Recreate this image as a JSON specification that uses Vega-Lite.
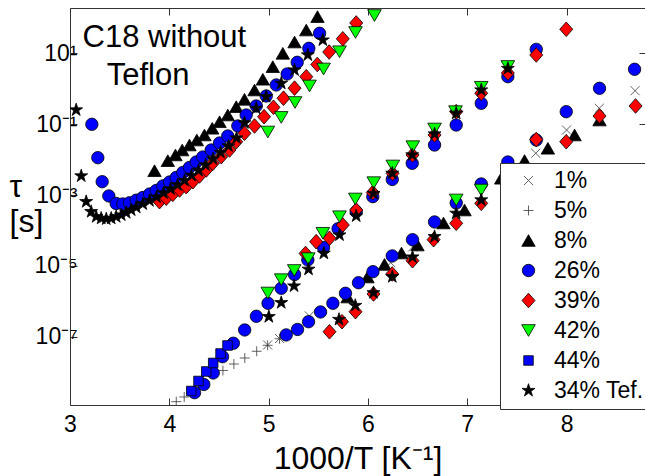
{
  "$schema": "https://vega.github.io/schema/vega-lite/v6.json",
  "autosize": {"type": "none"},
  "padding": {"left": 70, "top": 8, "right": 0, "bottom": 71},
  "width": 575,
  "height": 397,
  "config": {
    "view": {"stroke": null},
    "font": "Liberation Sans",
    "axis": {"grid": false, "labelFont": "Liberation Sans", "titleFont": "Liberation Sans", "labelColor": "#000", "titleColor": "#000", "domainColor": "#333", "tickColor": "#333", "titleFontWeight": "normal", "labelFlush": false, "labelOverlap": false}
  },
  "layer": [
    {
      "data": {"values": [
        {"s":"1%","x":4.99,"t":5.83e-8},{"s":"1%","x":5.11,"t":8.89e-8},{"s":"1%","x":5.41,"t":3.85e-7},{"s":"1%","x":6.23,"t":1.23e-5},{"s":"1%","x":6.45,"t":3.42e-5},{"s":"1%","x":7.69,"t":1.52e-2},{"s":"1%","x":8.00,"t":6.90e-2},{"s":"1%","x":8.33,"t":0.283},{"s":"1%","x":8.69,"t":0.889},
        {"s":"5%","x":4.07,"t":1.46e-9},{"s":"5%","x":4.15,"t":1.98e-9},{"s":"5%","x":4.54,"t":1.11e-8},{"s":"5%","x":4.65,"t":1.69e-8},{"s":"5%","x":4.76,"t":2.50e-8},{"s":"5%","x":4.88,"t":3.87e-8},{"s":"5%","x":4.99,"t":5.71e-8},{"s":"5%","x":5.11,"t":8.73e-8},
        {"s":"8%","x":3.851,"t":4.89e-3},{"s":"8%","x":3.985,"t":9.38e-3},{"s":"8%","x":4.062,"t":1.36e-2},{"s":"8%","x":4.130,"t":1.88e-2},{"s":"8%","x":4.203,"t":2.60e-2},{"s":"8%","x":4.277,"t":3.60e-2},{"s":"8%","x":4.354,"t":4.99e-2},{"s":"8%","x":4.432,"t":7.71e-2},{"s":"8%","x":4.506,"t":0.118},{"s":"8%","x":4.589,"t":0.183},{"s":"8%","x":4.674,"t":0.314},{"s":"8%","x":4.757,"t":0.508},{"s":"8%","x":4.858,"t":0.931},{"s":"8%","x":4.942,"t":1.87},{"s":"8%","x":5.042,"t":4.24},{"s":"8%","x":5.143,"t":10.1},{"s":"8%","x":5.261,"t":21.1},{"s":"8%","x":5.379,"t":46.1},{"s":"8%","x":5.492,"t":110},
        {"s":"8%","x":5.795,"t":1.32e-6},{"s":"8%","x":5.996,"t":4.85e-6},{"s":"8%","x":6.167,"t":1.10e-5},{"s":"8%","x":6.338,"t":2.31e-5},{"s":"8%","x":6.499,"t":3.89e-5},{"s":"8%","x":6.761,"t":1.63e-4},{"s":"8%","x":6.973,"t":3.79e-4},{"s":"8%","x":7.342,"t":2.99e-3},{"s":"8%","x":7.577,"t":9.48e-3},{"s":"8%","x":7.812,"t":2.10e-2},{"s":"8%","x":8.081,"t":4.99e-2},{"s":"8%","x":8.332,"t":0.132},
        {"s":"26%","x":3.220,"t":0.100},{"s":"26%","x":3.280,"t":1.14e-2},{"s":"26%","x":3.324,"t":2.39e-3},{"s":"26%","x":3.391,"t":9.44e-4},{"s":"26%","x":3.465,"t":5.79e-4},{"s":"26%","x":3.532,"t":5.61e-4},{"s":"26%","x":3.599,"t":6.05e-4},{"s":"26%","x":3.667,"t":7.18e-4},{"s":"26%","x":3.733,"t":8.55e-4},{"s":"26%","x":3.801,"t":1.07e-3},{"s":"26%","x":3.868,"t":1.35e-3},{"s":"26%","x":3.935,"t":1.81e-3},{"s":"26%","x":4.002,"t":2.34e-3},{"s":"26%","x":4.069,"t":3.14e-3},{"s":"26%","x":4.136,"t":4.35e-3},{"s":"26%","x":4.203,"t":6.03e-3},{"s":"26%","x":4.271,"t":8.61e-3},{"s":"26%","x":4.337,"t":1.19e-2},{"s":"26%","x":4.422,"t":1.88e-2},{"s":"26%","x":4.506,"t":2.96e-2},{"s":"26%","x":4.589,"t":4.67e-2},{"s":"26%","x":4.690,"t":8.95e-2},{"s":"26%","x":4.774,"t":0.183},{"s":"26%","x":4.875,"t":0.329},{"s":"26%","x":4.976,"t":0.630},{"s":"26%","x":5.077,"t":1.29},{"s":"26%","x":5.187,"t":2.64},{"s":"26%","x":5.288,"t":5.64},{"s":"26%","x":5.405,"t":14.0},{"s":"26%","x":5.513,"t":37.2},
        {"s":"26%","x":4.254,"t":2.62e-9},{"s":"26%","x":4.347,"t":4.47e-9},{"s":"26%","x":4.442,"t":9.44e-9},{"s":"26%","x":4.536,"t":2.72e-8},{"s":"26%","x":4.645,"t":6.52e-8},{"s":"26%","x":4.759,"t":1.55e-7},{"s":"26%","x":4.877,"t":3.77e-7},{"s":"26%","x":4.994,"t":8.79e-7},{"s":"26%","x":5.127,"t":2.33e-6},{"s":"26%","x":5.261,"t":5.71e-6},{"s":"26%","x":5.395,"t":1.47e-5},{"s":"26%","x":5.553,"t":3.31e-5},{"s":"26%","x":5.699,"t":1.12e-4},{"s":"26%","x":5.882,"t":3.40e-4},{"s":"26%","x":6.049,"t":9.02e-4},{"s":"26%","x":6.245,"t":2.76e-3},{"s":"26%","x":6.446,"t":7.91e-3},{"s":"26%","x":6.671,"t":2.60e-2},{"s":"26%","x":6.889,"t":9.55e-2},{"s":"26%","x":7.141,"t":0.392},{"s":"26%","x":7.409,"t":2.21},{"s":"26%","x":7.695,"t":13.1},
        {"s":"26%","x":5.177,"t":1.12e-7},{"s":"26%","x":5.291,"t":1.60e-7},{"s":"26%","x":5.402,"t":2.65e-7},{"s":"26%","x":5.523,"t":4.99e-7},{"s":"26%","x":5.647,"t":8.79e-7},{"s":"26%","x":5.774,"t":1.68e-6},{"s":"26%","x":5.905,"t":3.35e-6},{"s":"26%","x":6.051,"t":6.86e-6},{"s":"26%","x":6.245,"t":1.91e-5},{"s":"26%","x":6.449,"t":5.50e-5},{"s":"26%","x":6.671,"t":1.74e-4},{"s":"26%","x":6.889,"t":5.98e-4},{"s":"26%","x":7.141,"t":2.06e-3},{"s":"26%","x":7.409,"t":8.61e-3},{"s":"26%","x":7.695,"t":3.60e-2},{"s":"26%","x":7.997,"t":0.227},{"s":"26%","x":8.332,"t":1.04},{"s":"26%","x":8.685,"t":3.58},
        {"s":"39%","x":3.901,"t":6.52e-4},{"s":"39%","x":3.969,"t":8.13e-4},{"s":"39%","x":4.035,"t":1.05e-3},{"s":"39%","x":4.103,"t":1.39e-3},{"s":"39%","x":4.170,"t":1.73e-3},{"s":"39%","x":4.237,"t":2.39e-3},{"s":"39%","x":4.304,"t":3.47e-3},{"s":"39%","x":4.372,"t":5.12e-3},{"s":"39%","x":4.438,"t":7.91e-3},{"s":"39%","x":4.523,"t":1.22e-2},{"s":"39%","x":4.606,"t":1.88e-2},{"s":"39%","x":4.674,"t":3.22e-2},{"s":"39%","x":4.757,"t":5.57e-2},{"s":"39%","x":4.858,"t":8.95e-2},{"s":"39%","x":4.954,"t":0.164},{"s":"39%","x":5.049,"t":0.302},{"s":"39%","x":5.150,"t":0.546},{"s":"39%","x":5.261,"t":1.05},{"s":"39%","x":5.379,"t":2.21},{"s":"39%","x":5.490,"t":4.89},{"s":"39%","x":5.610,"t":11.0},{"s":"39%","x":5.747,"t":26.0},{"s":"39%","x":5.882,"t":72.8},
        {"s":"39%","x":5.372,"t":2.24e-5},{"s":"39%","x":5.479,"t":4.83e-5},{"s":"39%","x":5.613,"t":6.03e-5},{"s":"39%","x":5.747,"t":1.43e-4},{"s":"39%","x":5.882,"t":3.79e-4},{"s":"39%","x":6.049,"t":1.18e-3},{"s":"39%","x":6.248,"t":4.13e-3},{"s":"39%","x":6.449,"t":1.36e-2},{"s":"39%","x":6.671,"t":4.99e-2},{"s":"39%","x":6.889,"t":0.227},{"s":"39%","x":7.141,"t":0.752},{"s":"39%","x":7.409,"t":2.81},{"s":"39%","x":7.695,"t":9.08},{"s":"39%","x":7.997,"t":48.3},
        {"s":"39%","x":5.613,"t":1.38e-7},{"s":"39%","x":5.739,"t":2.65e-7},{"s":"39%","x":5.875,"t":5.08e-7},{"s":"39%","x":6.056,"t":1.61e-6},{"s":"39%","x":6.245,"t":5.90e-6},{"s":"39%","x":6.449,"t":1.40e-5},{"s":"39%","x":6.661,"t":5.50e-5},{"s":"39%","x":6.889,"t":1.60e-4},{"s":"39%","x":7.141,"t":5.86e-4},{"s":"39%","x":7.695,"t":3.72e-2},{"s":"39%","x":7.997,"t":3.22e-2},{"s":"39%","x":8.332,"t":0.171},{"s":"39%","x":8.695,"t":0.329},
        {"s":"42%","x":4.992,"t":6.05e-2},{"s":"42%","x":5.127,"t":0.156},{"s":"42%","x":5.266,"t":0.413},{"s":"42%","x":5.412,"t":1.21},{"s":"42%","x":5.553,"t":3.65},{"s":"42%","x":5.714,"t":11.2},{"s":"42%","x":5.875,"t":39.2},{"s":"42%","x":6.066,"t":118},
        {"s":"42%","x":4.992,"t":1.71e-6},{"s":"42%","x":5.127,"t":4.07e-6},{"s":"42%","x":5.258,"t":7.41e-6},{"s":"42%","x":5.399,"t":1.60e-5},{"s":"42%","x":5.546,"t":8.34e-5},{"s":"42%","x":5.714,"t":2.45e-4},{"s":"42%","x":5.873,"t":7.76e-4},{"s":"42%","x":6.059,"t":2.24e-3},{"s":"42%","x":6.251,"t":6.64e-3},{"s":"42%","x":6.452,"t":2.33e-2},{"s":"42%","x":6.671,"t":7.36e-2},{"s":"42%","x":6.882,"t":0.227},{"s":"42%","x":7.141,"t":1.11},{"s":"42%","x":7.409,"t":4.30},
        {"s":"42%","x":6.889,"t":7.28e-4},{"s":"42%","x":7.141,"t":1.39e-3},
        {"s":"44%","x":4.221,"t":2.92e-9},{"s":"44%","x":4.294,"t":5.61e-9},{"s":"44%","x":4.372,"t":1.04e-8},{"s":"44%","x":4.442,"t":1.81e-8},{"s":"44%","x":4.516,"t":3.35e-8},{"s":"44%","x":4.586,"t":5.64e-8},
        {"s":"34% Tef.","x":3.062,"t":0.254},{"s":"34% Tef.","x":3.113,"t":3.47e-3},{"s":"34% Tef.","x":3.163,"t":6.52e-4},{"s":"34% Tef.","x":3.213,"t":3.40e-4},{"s":"34% Tef.","x":3.264,"t":2.45e-4},{"s":"34% Tef.","x":3.314,"t":2.21e-4},{"s":"34% Tef.","x":3.365,"t":2.11e-4},{"s":"34% Tef.","x":3.415,"t":2.21e-4},{"s":"34% Tef.","x":3.465,"t":2.45e-4},{"s":"34% Tef.","x":3.516,"t":2.74e-4},{"s":"34% Tef.","x":3.566,"t":3.18e-4},{"s":"34% Tef.","x":3.616,"t":3.79e-4},{"s":"34% Tef.","x":3.667,"t":4.52e-4},{"s":"34% Tef.","x":3.733,"t":5.61e-4},{"s":"34% Tef.","x":3.801,"t":6.95e-4},{"s":"34% Tef.","x":3.871,"t":8.83e-4},{"s":"34% Tef.","x":3.942,"t":1.15e-3},{"s":"34% Tef.","x":4.012,"t":1.49e-3},{"s":"34% Tef.","x":4.083,"t":1.93e-3},{"s":"34% Tef.","x":4.153,"t":2.58e-3},{"s":"34% Tef.","x":4.224,"t":3.58e-3},{"s":"34% Tef.","x":4.294,"t":4.95e-3},{"s":"34% Tef.","x":4.365,"t":7.08e-3},{"s":"34% Tef.","x":4.440,"t":1.05e-2},{"s":"34% Tef.","x":4.516,"t":1.60e-2},{"s":"34% Tef.","x":4.596,"t":2.44e-2},{"s":"34% Tef.","x":4.677,"t":4.10e-2},{"s":"34% Tef.","x":4.757,"t":0.11},{"s":"34% Tef.","x":4.875,"t":0.283},{"s":"34% Tef.","x":4.976,"t":0.603},{"s":"34% Tef.","x":5.127,"t":1.44},{"s":"34% Tef.","x":5.261,"t":3.42},{"s":"34% Tef.","x":5.395,"t":9.08},{"s":"34% Tef.","x":5.546,"t":24.0},
        {"s":"34% Tef.","x":5.002,"t":3.67e-7},{"s":"34% Tef.","x":5.127,"t":9.12e-7},{"s":"34% Tef.","x":5.256,"t":2.70e-6},{"s":"34% Tef.","x":5.402,"t":8.02e-6},{"s":"34% Tef.","x":5.556,"t":2.27e-5},{"s":"34% Tef.","x":5.714,"t":7.46e-5},{"s":"34% Tef.","x":5.882,"t":2.57e-4},{"s":"34% Tef.","x":6.056,"t":1.11e-3},{"s":"34% Tef.","x":6.245,"t":4.13e-3},{"s":"34% Tef.","x":6.446,"t":1.36e-2},{"s":"34% Tef.","x":6.671,"t":5.32e-2},{"s":"34% Tef.","x":6.889,"t":0.205},{"s":"34% Tef.","x":7.141,"t":0.931},{"s":"34% Tef.","x":7.409,"t":3.77},
        {"s":"34% Tef.","x":5.709,"t":3.06e-7},{"s":"34% Tef.","x":5.873,"t":7.60e-7},{"s":"34% Tef.","x":6.056,"t":1.74e-6},{"s":"34% Tef.","x":6.245,"t":4.95e-6},{"s":"34% Tef.","x":6.449,"t":1.78e-5},{"s":"34% Tef.","x":6.671,"t":6.68e-5},{"s":"34% Tef.","x":6.889,"t":3.06e-4},{"s":"34% Tef.","x":7.141,"t":7.28e-4}
      ]},
      "mark": {"type": "point", "filled": true, "opacity": 1, "size": 154, "strokeWidth": 0.8, "clip": true},
      "encoding": {
        "x": {"field": "x", "type": "quantitative", "scale": {"domain": [3, 8.79], "nice": false, "zero": false},
          "axis": {"orient": "bottom", "values": [3,4,5,6,7,8], "tickSize": -7, "labelPadding": 15, "labelFontSize": 23, "format": "d", "title": "1000/T [K⁻¹]", "titleFontSize": 32, "titleBaseline": "alphabetic", "titleY": 63}},
        "y": {"field": "t", "type": "quantitative", "scale": {"type": "log", "domain": [1.175e-9, 192.8], "nice": false},
          "axis": {"orient": "left", "values": [10, 0.1, 0.001, 0.00001, 1e-7], "tickSize": -7, "labelPadding": 0, "labelFontSize": 23,
            "labelExpr": "round(log(datum.value)/LN10) == 1 ? '10¹' : round(log(datum.value)/LN10) == -1 ? '10⁻¹' : round(log(datum.value)/LN10) == -3 ? '10⁻³' : round(log(datum.value)/LN10) == -5 ? '10⁻⁵' : '10⁻⁷'",
            "title": ["τ", "[s]"], "titleAngle": 0, "titleAlign": "left", "titleBaseline": "alphabetic", "titleX": -61, "titleY": 188, "titleFontSize": 32, "titleLineHeight": 35}},
        "shape": {"field": "s", "type": "nominal", "scale": {"domain": ["1%","5%","8%","26%","39%","42%","44%","34% Tef."], "range": ["M-0.73,-0.73L0.73,0.73M-0.73,0.73L0.73,-0.73", "M-0.8,0L0.8,0M0,-0.8L0,0.8", "M0,-0.94L1.08,0.94L-1.08,0.94Z", "circle", "M0,-1.18L1.05,0L0,1.18L-1.05,0Z", "M0,0.94L1.1,-0.94L-1.1,-0.94Z", "M-0.77,-0.77L0.77,-0.77L0.77,0.77L-0.77,0.77Z", "M0,-1.1L0.248,-0.34L1.046,-0.34L0.399,0.13L0.647,0.89L0,0.42L-0.647,0.89L-0.399,0.13L-1.046,-0.34L-0.248,-0.34Z"]},
          "legend": {"title": null, "orient": "none", "legendX": 430, "legendY": 155, "padding": 6, "fillColor": "white", "strokeColor": "#333", "labelFontSize": 23, "labelFont": "Liberation Sans", "labelColor": "#000", "symbolSize": 154, "symbolStrokeWidth": 0.8, "symbolOffset": 11, "labelOffset": 14, "rowPadding": 6, "symbolOpacity": 1}},
        "fill": {"field": "s", "type": "nominal", "scale": {"domain": ["1%","5%","8%","26%","39%","42%","44%","34% Tef."], "range": ["transparent","transparent","#000000","#0000ff","#ff0000","#00ff00","#0000ff","#000000"]},
          "legend": {"title": null, "orient": "none", "legendX": 430, "legendY": 155, "padding": 6, "fillColor": "white", "strokeColor": "#333", "labelFontSize": 23, "labelFont": "Liberation Sans", "labelColor": "#000", "symbolSize": 154, "symbolStrokeWidth": 0.8, "symbolOffset": 11, "labelOffset": 14, "rowPadding": 6, "symbolOpacity": 1}},
        "stroke": {"field": "s", "type": "nominal", "scale": {"domain": ["1%","5%","8%","26%","39%","42%","44%","34% Tef."], "range": ["#3a3a3a","#3a3a3a","#000000","#000000","#000000","#000000","#000000","#000000"]},
          "legend": {"title": null, "orient": "none", "legendX": 430, "legendY": 155, "padding": 6, "fillColor": "white", "strokeColor": "#333", "labelFontSize": 23, "labelFont": "Liberation Sans", "labelColor": "#000", "symbolSize": 154, "symbolStrokeWidth": 0.8, "symbolOffset": 11, "labelOffset": 14, "rowPadding": 6, "symbolOpacity": 1}}
      }
    },
    {
      "data": {"values": [{"label": "C18 without"}]},
      "mark": {"type": "text", "align": "left", "baseline": "alphabetic", "fontSize": 31, "font": "Liberation Sans", "color": "#000"},
      "encoding": {
        "text": {"field": "label"},
        "x": {"datum": 3.126, "type": "quantitative", "axis": {"orient": "top", "values": [3,4,5,6,7,8], "tickSize": -7, "labels": false, "title": null, "domain": true}},
        "y": {"datum": 15.0, "type": "quantitative", "axis": {"orient": "right", "values": [10, 0.1, 0.001, 0.00001, 1e-7], "tickSize": -6, "labels": false, "title": null, "domain": false}}
      }
    },
    {
      "data": {"values": [{"label": "Teflon"}]},
      "mark": {"type": "text", "align": "left", "baseline": "alphabetic", "fontSize": 31, "font": "Liberation Sans", "color": "#000"},
      "encoding": {
        "text": {"field": "label"},
        "x": {"datum": 3.37, "type": "quantitative", "axis": null},
        "y": {"datum": 1.29, "type": "quantitative", "axis": null}
      }
    }
  ],
  "resolve": {"axis": {"x": "independent", "y": "independent"}}
}
